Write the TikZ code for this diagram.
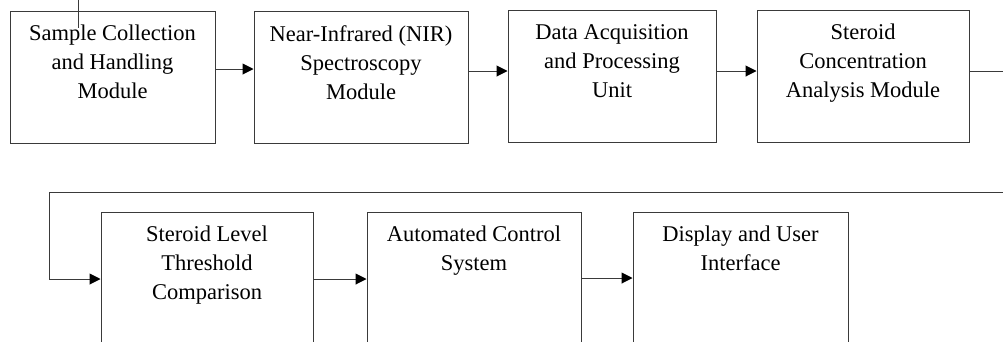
\documentclass[tikz,border=0pt]{standalone}
\usepackage{fontspec}
\setmainfont{Liberation Serif}
\usetikzlibrary{arrows.meta,calc}
\definecolor{linec}{HTML}{3A3A3A}
\begin{document}
\begin{tikzpicture}[x=1pt,y=-1pt,
  box/.style={draw=linec, line width=1pt, inner sep=0pt},
  lbl/.style={font=\rmfamily\fontsize{22.5}{29}\selectfont, align=center, inner sep=0pt, anchor=north},
  arr/.style={draw=linec, line width=1pt, -{Triangle[length=11pt,width=11pt,fill=black,color=black]}},
  ln/.style={draw=linec, line width=1pt}]
\useasboundingbox (0,0) rectangle (1003,341);
\clip (0,0) rectangle (1003,341);
\fill[white] (0,0) rectangle (1003,341);
% row 1
\node[box, minimum width=205pt, minimum height=132pt] (b1) at (112.5,77) {};
\node[box, minimum width=214pt, minimum height=132pt] (b2) at (361,77) {};
\node[box, minimum width=208pt, minimum height=132pt] (b3) at (612,76) {};
\node[box, minimum width=212pt, minimum height=132pt] (b4) at (863,76) {};
% row 2
\node[box, minimum width=212pt, minimum height=148pt] (b5) at (207,286) {};
\node[box, minimum width=214pt, minimum height=148pt] (b6) at (474,286) {};
\node[box, minimum width=215pt, minimum height=148pt] (b7) at (740.5,286) {};
% labels
\node[lbl] (t1) at ($(b1.north)+(0,14.5)$) {Sample Collection\\and Handling\\Module};
\node[lbl] (t2) at ($(b2.north)+(0,14.5)$) {Near-Infrared (NIR)\\Spectroscopy\\Module};
\node[lbl] (t3) at ($(b3.north)+(0,14.5)$) {Data Acquisition\\and Processing\\Unit};
\node[lbl] (t4) at ($(b4.north)+(0,14.5)$) {Steroid\\Concentration\\Analysis Module};
\node[lbl] (t5) at ($(b5.north)+(0,14.5)$) {Steroid Level\\Threshold\\Comparison};
\node[lbl] (t6) at ($(b6.north)+(0,14.5)$) {Automated Control\\System};
\node[lbl] (t7) at ($(b7.north)+(0,14.5)$) {Display and User\\Interface};
% connector levels
\coordinate (y1) at (0,69);
\coordinate (y2) at (0,71);
\coordinate (y5) at (0,279);
\coordinate (y6) at (0,278);
\coordinate (r1) at (1003,71);
\coordinate (r2) at (1003,192);
\coordinate (c1) at (49,192);
\coordinate (c2) at (49,279);
\coordinate (tk1) at (78,0);
\coordinate (tk2) at (78,28);
% connectors
\draw[arr] (b1.east |- y1) -- (b2.west |- y1);
\draw[arr] (b2.east |- y2) -- (b3.west |- y2);
\draw[arr] (b3.east |- y2) -- (b4.west |- y2);
\draw[ln] (b4.east |- r1) -- (r1);
\draw[arr] (r2) -- (c1) -- (c2) -- (b5.west |- c2);
\draw[arr] (b5.east |- y5) -- (b6.west |- y5);
\draw[arr] (b6.east |- y6) -- (b7.west |- y6);
\draw[ln] (tk1) -- (tk2);
\end{tikzpicture}
\end{document}
